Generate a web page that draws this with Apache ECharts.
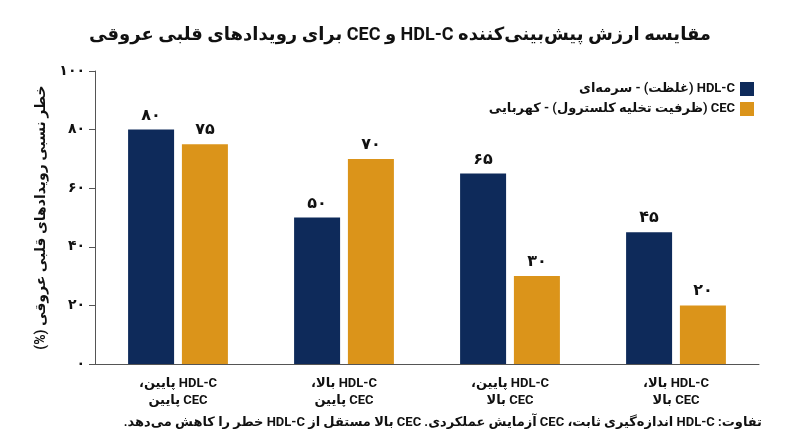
<!DOCTYPE html>
<html dir="rtl">
<head>
<meta charset="utf-8">
<title>HDL-C vs CEC</title>
<script src="https://cdn.jsdelivr.net/npm/echarts@6/dist/echarts.min.js"></script>
<style>
  html, body { margin: 0; padding: 0; background: #fff; }
  #chart { width: 800px; height: 447px; }
</style>
</head>
<body>
<div id="chart" dir="rtl"></div>
<script>
var categories = [
  "HDL-C پایین،\nCEC پایین",
  "HDL-C بالا،\nCEC پایین",
  "HDL-C پایین،\nCEC بالا",
  "HDL-C بالا،\nCEC بالا"
];
var hdlValues = [80, 50, 65, 45];
var cecValues = [75, 70, 30, 20];
var seriesNames = ["HDL-C (غلظت) - سرمه‌ای", "CEC (ظرفیت تخلیه کلسترول) - کهربایی"];
var yTicks = [0, 20, 40, 60, 80, 100];
var faDigits = ["۰", "۱", "۲", "۳", "۴", "۵", "۶", "۷", "۸", "۹"];

var titleText = "مقایسه ارزش پیش‌بینی‌کننده HDL-C و CEC برای رویدادهای قلبی عروقی";
var yName = "خطر نسبی رویدادهای قلبی عروقی (%)";
var noteText = "تفاوت: HDL-C اندازه‌گیری ثابت، CEC آزمایش عملکردی. CEC بالا مستقل از HDL-C خطر را کاهش می‌دهد.";

var font = "Roboto, 'DejaVu Sans', sans-serif";

// اعداد فارسی
function toFa(n) {
  return String(n).replace(/[0-9]/g, function(d) { return faDigits[+d]; });
}

var chart = echarts.init(document.getElementById("chart"));
var option = {
  backgroundColor: "#fff",
  textStyle: { fontFamily: font },
  title: {
    text: titleText,
    left: "center",
    top: 21,
    textStyle: { fontSize: 18, fontWeight: "bold", color: "#111", fontFamily: font }
  },
  legend: {
    orient: "vertical",
    right: 41,
    top: 77,
    align: "right",
    itemWidth: 14,
    itemHeight: 14,
    itemGap: 6,
    icon: "rect",
    textStyle: { fontSize: 13, fontWeight: "bold", color: "#111", fontFamily: font }
  },
  grid: { left: 95, right: 41, top: 71, bottom: 83 },
  xAxis: {
    type: "category",
    data: categories,
    axisLine: { lineStyle: { color: "#555", width: 1 } },
    axisTick: { show: false },
    axisLabel: {
      margin: 11,
      fontSize: 13,
      fontWeight: "bold",
      color: "#111",
      lineHeight: 17,
      fontFamily: font
    }
  },
  yAxis: {
    type: "value",
    min: yTicks[0],
    max: yTicks[yTicks.length - 1],
    interval: 20,
    name: yName,
    nameLocation: "middle",
    nameGap: 44,
    nameTextStyle: { fontSize: 14, fontWeight: "bold", color: "#111", fontFamily: font },
    axisLine: { show: true, lineStyle: { color: "#555", width: 1 } },
    axisTick: { show: true, length: 6, lineStyle: { color: "#555" } },
    splitLine: { show: false },
    axisLabel: {
      margin: 10,
      fontSize: 14,
      fontWeight: "bold",
      color: "#111",
      fontFamily: font,
      formatter: function(v) { return toFa(v); }
    }
  },
  series: [
    {
      name: seriesNames[0],
      type: "bar",
      data: hdlValues,
      barWidth: 46,
      barGap: "17%",
      itemStyle: { color: "#0e2a5a" },
      label: {
        show: true,
        position: "top",
        distance: 6,
        fontSize: 16,
        fontWeight: "bold",
        color: "#111",
        fontFamily: font,
        formatter: function(p) { return toFa(p.value); }
      }
    },
    {
      name: seriesNames[1],
      type: "bar",
      data: cecValues,
      barWidth: 46,
      itemStyle: { color: "#db941a" },
      label: {
        show: true,
        position: "top",
        distance: 6,
        fontSize: 16,
        fontWeight: "bold",
        color: "#111",
        fontFamily: font,
        formatter: function(p) { return toFa(p.value); }
      }
    }
  ],
  graphic: [
    {
      type: "text",
      right: 38,
      top: 416,
      style: {
        text: noteText,
        fontSize: 13,
        fontWeight: "bold",
        fill: "#111",
        fontFamily: font
      }
    }
  ]
};
chart.setOption(option);
</script>
</body>
</html>
